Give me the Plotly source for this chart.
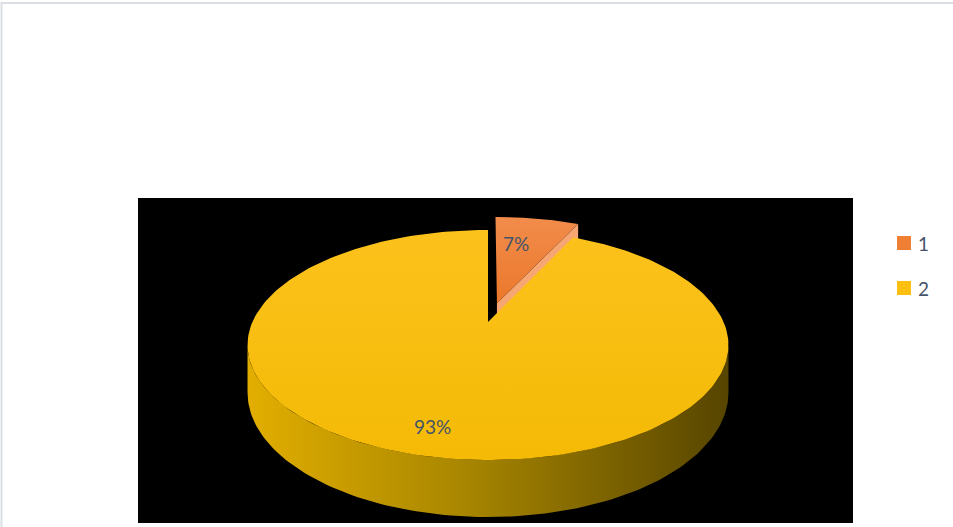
import numpy as np
import plotly.graph_objects as go

# ---- data -------------------------------------------------------------
categories = ["1", "2"]
values = [7, 93]

# ---- styling ----------------------------------------------------------
top_fill = [["#EB782B", "#F28C4B"], ["#F4BA05", "#FCC21C"]]   # bottom, top
radial_side_fill = ["#F6A673", "#C99700"]
outer_side_scale = [[0.0, "#E2AE00"], [0.45, "#A88600"], [1.0, "#574500"]]
legend_fill = ["#EE7F34", "#FDC010"]
label_color = "#44546A"
font_family = "Lato, 'Open Sans', sans-serif"

W, H = 953, 527
PLOT_X = (138, 853)    # black plot area, pixels
PLOT_Y = (198, 523)

# projected disc: centre, half axes, perspective factor, wall depth
CX, CY = 488.0, 322.0
A, B, K = 235.6, 110.4, 0.2
DEPTH = 45.6
EXPLODE = [0.18, 0.0]
# label placement: (fraction along the wedge, fraction of radius)
LABEL_POS = [(0.35, 0.66), (0.504, 0.82)]


def proj(u, v):
    w = 1.0 - K * v
    return CX + A * u / w, CY + B * v / w, w


def wedge_uv(phi, off, r=1.0):
    # phi in degrees, clockwise from 12 o'clock
    p = np.radians(phi)
    return off[0] + r * np.sin(p), off[1] - r * np.cos(p)


fig = go.Figure()

total = float(sum(values))
fracs = [v / total for v in values]
starts = np.concatenate([[0.0], np.cumsum(fracs)[:-1]]) * 360.0
ends = np.cumsum(fracs) * 360.0

# visible (front) part of the outer wall, between the silhouette points
phi_right = np.degrees(np.arccos(-K))
phi_left = 360.0 - phi_right

faces = []
for i, (a0, a1) in enumerate(zip(starts, ends)):
    mid = np.radians((a0 + a1) / 2)
    off = (EXPLODE[i] * np.sin(mid), -EXPLODE[i] * np.cos(mid))
    cu, cv = off
    cx, cy, cw = proj(cu, cv)

    # radial face on the clockwise edge (faces the viewer)
    eu, ev = wedge_uv(a1, off)
    ex, ey, ew = proj(eu, ev)
    rad_x = [cx, ex, ex, cx, cx]
    rad_y = [cy, ey, ey + DEPTH / ew, cy + DEPTH / cw, cy]
    faces.append(dict(x=rad_x, y=rad_y, fillcolor=radial_side_fill[i]))

    # outer wall
    lo, hi = max(a0, phi_right), min(a1, phi_left)
    if hi > lo:
        ph = np.linspace(lo, hi, 120)
        uu, vv = wedge_uv(ph, off)
        tx, ty, tw = proj(uu, vv)
        bx, by = tx, ty + DEPTH / tw
        wx = np.concatenate([tx, bx[::-1], tx[:1]])
        wy = np.concatenate([ty, by[::-1], ty[:1]])
        faces.append(dict(x=wx, y=wy, grad=True))

    # top face
    ph = np.linspace(a0, a1, 240)
    uu, vv = wedge_uv(ph, off)
    tx, ty, _ = proj(uu, vv)
    fx = np.concatenate([[cx], tx, [cx]])
    fy = np.concatenate([[cy], ty, [cy]])
    faces.append(dict(x=fx, y=fy, top=i))

    # percentage label
    fa, fr = LABEL_POS[i]
    lu, lv = wedge_uv(a0 + fa * (a1 - a0), off, fr)
    lx, ly, _ = proj(lu, lv)
    fig.add_annotation(x=lx, y=ly, text=f"{values[i] / total * 100:.0f}%",
                       showarrow=False, xref="x", yref="y",
                       font=dict(family=font_family, size=19, color=label_color))

# back slice first, then the front one
for f in faces:
    common = dict(mode="lines", line=dict(width=0), fill="toself",
                  hoverinfo="skip", showlegend=False)
    if f.get("grad"):
        fig.add_trace(go.Scatter(x=f["x"], y=f["y"], **common,
                                 fillgradient=dict(type="horizontal",
                                                   colorscale=outer_side_scale,
                                                   start=CX - A * 1.02,
                                                   stop=CX + A * 1.02)))
    elif "top" in f:
        c0, c1 = top_fill[f["top"]]
        fig.add_trace(go.Scatter(x=f["x"], y=f["y"], **common,
                                 fillgradient=dict(type="vertical",
                                                   colorscale=[[0, c0], [1, c1]])))
    else:
        fig.add_trace(go.Scatter(x=f["x"], y=f["y"], fillcolor=f["fillcolor"], **common))

# legend (square swatches + category names)
shapes = []
legend_y = [243, 288]
for name, col, ly in zip(categories, legend_fill, legend_y):
    shapes.append(dict(type="rect", xref="paper", yref="paper",
                       x0=897 / W, x1=911 / W, y0=1 - (ly + 7) / H, y1=1 - (ly - 7) / H,
                       fillcolor=col, line=dict(width=0)))
    fig.add_annotation(x=916 / W, y=1 - ly / H, xref="paper", yref="paper",
                       text=name, showarrow=False, xanchor="left", yanchor="middle",
                       font=dict(family=font_family, size=19, color=label_color))

# outer chart frame
shapes.append(dict(type="rect", xref="paper", yref="paper",
                   x0=1.5 / W, x1=1.2, y0=-0.2, y1=1 - 3 / H,
                   line=dict(color="#D9DEE5", width=2), fillcolor="rgba(0,0,0,0)"))

fig.update_layout(
    width=W, height=H,
    margin=dict(l=0, r=0, t=0, b=0),
    paper_bgcolor="white",
    plot_bgcolor="black",
    shapes=shapes,
    showlegend=False,
    xaxis=dict(domain=[PLOT_X[0] / W, PLOT_X[1] / W], range=list(PLOT_X),
               visible=False, showgrid=False, zeroline=False, fixedrange=True),
    yaxis=dict(domain=[1 - PLOT_Y[1] / H, 1 - PLOT_Y[0] / H], range=[PLOT_Y[1], PLOT_Y[0]],
               visible=False, showgrid=False, zeroline=False, fixedrange=True),
)

fig.write_html("out.html")
